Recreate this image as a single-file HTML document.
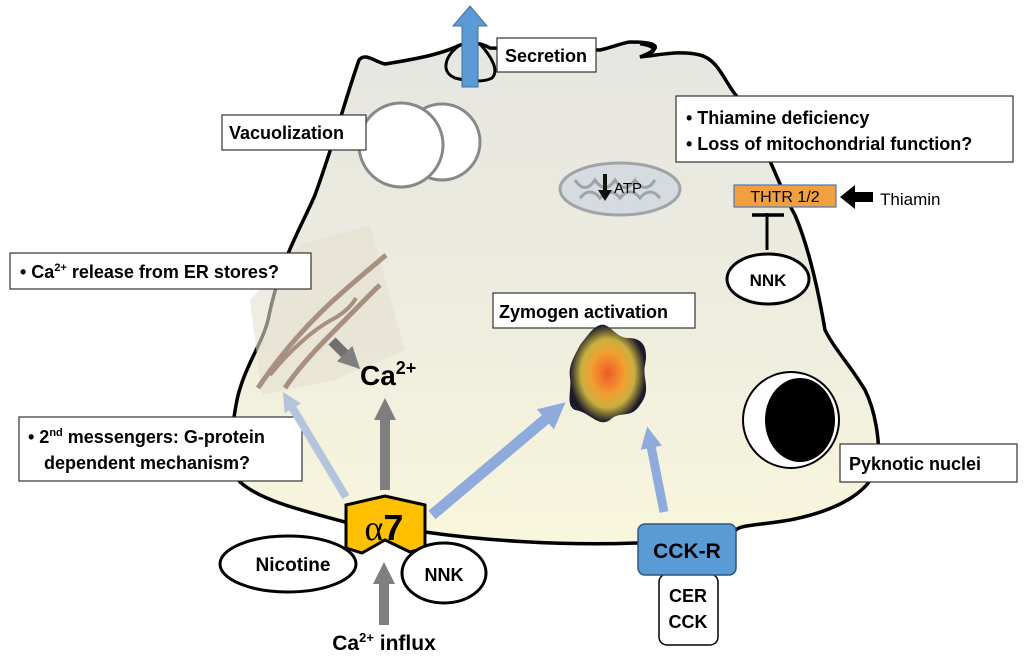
<!DOCTYPE html>
<html><head><style>
body{margin:0;background:#fff;}
svg{display:block;font-family:"Liberation Sans",sans-serif;}
.b{font-weight:bold;}
</style></head><body>
<svg width="1024" height="658" viewBox="0 0 1024 658">
<defs>
<linearGradient id="cg" x1="0" y1="0" x2="0" y2="1">
<stop offset="0" stop-color="#e6e6e2"/><stop offset="0.45" stop-color="#ecebdf"/><stop offset="1" stop-color="#f8f6dc"/>
</linearGradient>
<radialGradient id="zg">
<stop offset="0" stop-color="#f05a28"/><stop offset="0.45" stop-color="#f2a030"/><stop offset="0.7" stop-color="#c8b040"/><stop offset="1" stop-color="#1a1a2a"/>
</radialGradient>
<marker id="hb" markerWidth="2.4" markerHeight="2.4" refX="0.2" refY="1.2" orient="auto"><path d="M0,0 L2.4,1.2 L0,2.4 Z" fill="#8faadc"/></marker>
<marker id="hl" markerWidth="2.4" markerHeight="2.4" refX="0.2" refY="1.2" orient="auto"><path d="M0,0 L2.4,1.2 L0,2.4 Z" fill="#b4c4dc"/></marker>
<marker id="hg" markerWidth="2.2" markerHeight="2.2" refX="0.2" refY="1.1" orient="auto"><path d="M0,0 L2.2,1.1 L0,2.2 Z" fill="#7f7f7f"/></marker>
</defs>
<path d="M345,522 C300,510 260,500 240,482 C225,462 232,430 236,405 C242,370 262,345 268,320 C280,260 300,230 315,195 C335,140 345,100 359,60 C365,52 375,62 385,64 C410,60 440,55 460,45 C470,42 480,42 490,48 L600,50 C610,48 625,42 630,42 C650,42 670,45 640,57 C660,55 680,50 700,55 C720,60 725,85 740,100 C760,130 780,190 795,215 C810,250 820,300 825,330 C835,350 850,365 865,390 C875,410 880,440 878,460 C875,490 840,510 790,520 C760,525 740,525 736,530 L637,543 C560,546 480,540 425,532 Z" fill="url(#cg)" stroke="#000" stroke-width="3.5"/>
<path d="M460,45 C445,55 440,72 455,78 C470,82 485,82 492,78 C500,70 490,55 480,44" fill="none" stroke="#000" stroke-width="3"/>
<path d="M640,44 C655,46 660,52 643,56" fill="none" stroke="#000" stroke-width="3"/>
<path d="M462,87 L462,26 L453,26 L470,6 L487,26 L478,26 L478,87 Z" fill="#5b9bd5" stroke="#41719c" stroke-width="1"/>
<rect x="497" y="38" width="99" height="34" fill="#fff" stroke="#333" stroke-width="1.2"/>
<text x="546" y="62" class="b" font-size="18" text-anchor="middle">Secretion</text>
<circle cx="442" cy="142" r="38" fill="#fff" stroke="#888" stroke-width="3"/>
<circle cx="401" cy="145" r="42" fill="#fff" stroke="#888" stroke-width="3"/>
<rect x="222" y="115" width="144" height="35" fill="#fff" stroke="#333" stroke-width="1.2"/>
<text x="229" y="139" class="b" font-size="18">Vacuolization</text>
<rect x="676" y="96" width="337" height="66" fill="#fff" stroke="#333" stroke-width="1.2"/>
<text x="686" y="124" class="b" font-size="18">• Thiamine deficiency</text>
<text x="686" y="150" class="b" font-size="18">• Loss of mitochondrial function?</text>
<ellipse cx="620" cy="189" rx="60" ry="26" fill="#d6dbe0" stroke="#a0a4a8" stroke-width="3"/>
<path d="M575,180 q10,15 20,0 q10,15 20,0 q10,15 20,0 q10,15 20,0 M580,198 q10,-12 20,0 q10,-12 20,0 q10,-12 20,0 q10,-12 20,0" fill="none" stroke="#9ea3a8" stroke-width="3"/>
<path d="M603,174 L603,190 L598,190 L605,201 L612,190 L607,190 L607,174 Z" fill="#111"/>
<text x="614" y="193" font-size="15">ATP</text>
<rect x="734" y="185" width="102" height="22" fill="#f0a040" stroke="#4a7ab5" stroke-width="1.2"/>
<text x="785" y="202" font-size="16" text-anchor="middle">THTR 1/2</text>
<path d="M840,197 L855,185 L855,192 L873,192 L873,202 L855,202 L855,209 Z" fill="#000"/>
<text x="880" y="205" font-size="17">Thiamin</text>
<line x1="767" y1="213" x2="767" y2="250" stroke="#000" stroke-width="3"/>
<line x1="752" y1="215" x2="784" y2="215" stroke="#000" stroke-width="3.5"/>
<ellipse cx="768" cy="279" rx="41" ry="25" fill="#fff" stroke="#000" stroke-width="3"/>
<text x="768" y="286" class="b" font-size="17" text-anchor="middle">NNK</text>
<circle cx="791" cy="420" r="48" fill="#fff" stroke="#000" stroke-width="2"/>
<ellipse cx="800" cy="420" rx="35" ry="42" fill="#000"/>
<rect x="840" y="444" width="177" height="38" fill="#fff" stroke="#333" stroke-width="1.2"/>
<text x="849" y="470" class="b" font-size="18">Pyknotic nuclei</text>
<rect x="493" y="293" width="202" height="35" fill="#fff" stroke="#333" stroke-width="1.2"/>
<text x="499" y="318" class="b" font-size="18">Zymogen activation</text>
<path d="M600,325 C610,322 615,338 628,338 C645,338 648,350 645,365 C642,378 652,390 640,405 C630,420 620,410 610,420 C598,428 590,412 575,410 C565,405 572,390 570,378 C568,365 575,355 580,345 C588,335 592,328 600,325 Z" fill="url(#zg)"/>
<polygon points="300,245 370,225 405,350 335,380 262,395 250,300" fill="#e4e0d0" opacity="0.6"/>
<path d="M258,388 C280,355 310,320 345,290 C362,275 378,262 386,255" fill="none" stroke="#a89080" stroke-width="5"/>
<path d="M285,388 C300,365 325,340 345,320 C360,305 372,292 380,285" fill="none" stroke="#a89080" stroke-width="5"/>
<path d="M270,375 C290,350 315,328 335,318 C345,312 352,305 356,298" fill="none" stroke="#a89080" stroke-width="4"/>
<rect x="10" y="253" width="301" height="36" fill="#fff" stroke="#333" stroke-width="1.2"/>
<text x="20" y="278" class="b" font-size="18">• Ca<tspan font-size="11" dy="-7">2+</tspan><tspan dy="7"> release from ER stores?</tspan></text>
<rect x="19" y="417" width="283" height="64" fill="#fff" stroke="#333" stroke-width="1.2"/>
<text x="28" y="443" class="b" font-size="18">• 2<tspan font-size="11" dy="-7">nd</tspan><tspan dy="7"> messengers: G-protein</tspan></text>
<text x="44" y="469" class="b" font-size="18">dependent mechanism?</text>
<text x="360" y="385" class="b" font-size="28">Ca<tspan font-size="18" dy="-11">2+</tspan></text>
<line x1="332" y1="341" x2="346" y2="355" stroke="#707070" stroke-width="10" marker-end="url(#hg)"/>
<line x1="385" y1="490" x2="385" y2="418" stroke="#7f7f7f" stroke-width="10" marker-end="url(#hg)"/>
<line x1="346" y1="497" x2="292" y2="407" stroke="#b4c4dc" stroke-width="8" marker-end="url(#hl)"/>
<line x1="432" y1="515" x2="547" y2="418" stroke="#8faadc" stroke-width="11" marker-end="url(#hb)"/>
<line x1="664" y1="512" x2="651" y2="446" stroke="#8faadc" stroke-width="9" marker-end="url(#hb)"/>
<polygon points="346,505 385,496 425,505 425,548 410,552 385,540 362,553 346,548" fill="#ffc000" stroke="#000" stroke-width="3"/>
<ellipse cx="288" cy="564" rx="68" ry="28" fill="#fff" stroke="#000" stroke-width="3"/>
<text x="293" y="571" class="b" font-size="19" text-anchor="middle">Nicotine</text>
<ellipse cx="444" cy="573" rx="42" ry="30" fill="#fff" stroke="#000" stroke-width="3"/>
<text x="444" y="581" class="b" font-size="18" text-anchor="middle">NNK</text>
<text x="384" y="540" font-size="36" text-anchor="middle" font-family="Liberation Serif,serif">α<tspan font-family="Liberation Sans,sans-serif" font-weight="bold">7</tspan></text>
<line x1="384" y1="625" x2="384" y2="582" stroke="#7f7f7f" stroke-width="10" marker-end="url(#hg)"/>
<text x="384" y="650" class="b" font-size="21" text-anchor="middle">Ca<tspan font-size="13" dy="-8">2+</tspan><tspan dy="8"> influx</tspan></text>
<rect x="659" y="574" width="59" height="71" rx="8" fill="#fff" stroke="#000" stroke-width="1.5"/>
<text x="688" y="602" class="b" font-size="18" text-anchor="middle">CER</text>
<text x="688" y="628" class="b" font-size="18" text-anchor="middle">CCK</text>
<rect x="638" y="524" width="98" height="51" rx="7" fill="#5b9bd5" stroke="#2f5580" stroke-width="1.5"/>
<text x="687" y="558" class="b" font-size="21" text-anchor="middle">CCK-R</text>
</svg>
</body></html>
